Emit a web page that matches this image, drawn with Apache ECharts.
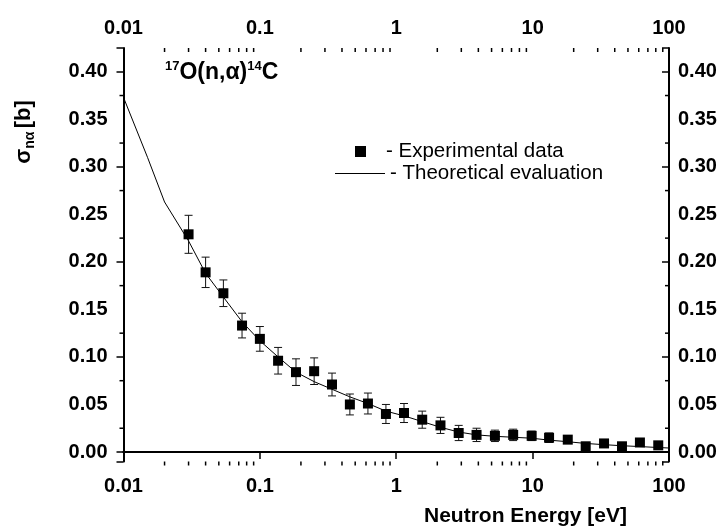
<!DOCTYPE html>
<html>
<head>
<meta charset="utf-8">
<script src="https://cdn.jsdelivr.net/npm/echarts@6/dist/echarts.min.js"></script>
<style>
html,body{margin:0;padding:0;background:#fff;}
#chart{width:723px;height:532px;}
</style>
</head>
<body>
<div id="chart"></div>
<script>
// Experimental data: neutron energy [eV], cross section [b], uncertainty [b]
const energies = [0.03, 0.04, 0.054, 0.074, 0.10, 0.136, 0.184, 0.25, 0.338, 0.457, 0.62, 0.84,
  1.14, 1.55, 2.11, 2.87, 3.88, 5.29, 7.2, 9.84, 13.2, 18.1, 24.5, 33.4, 45.2, 61.2, 83.4];
const sigma = [0.229, 0.189, 0.167, 0.133, 0.119, 0.096, 0.084, 0.085, 0.071, 0.050, 0.051, 0.040,
  0.041, 0.034, 0.028, 0.020, 0.018, 0.017, 0.018, 0.017, 0.015, 0.013, 0.006, 0.009, 0.006, 0.010, 0.007];
const sigmaErr = [0.020, 0.016, 0.014, 0.013, 0.013, 0.014, 0.014, 0.014, 0.012, 0.011, 0.011, 0.010,
  0.010, 0.009, 0.0085, 0.008, 0.007, 0.006, 0.006, 0.005, 0.005, 0.004, 0.004, 0.004, 0.004, 0.004, 0.004];
// Theoretical evaluation curve
const curveE = [0.01, 0.015, 0.02, 0.03, 0.04, 0.054, 0.074, 0.1, 0.136, 0.184, 0.25, 0.338, 0.457, 0.62,
  0.84, 1.14, 1.55, 2.11, 2.87, 3.88, 5.29, 7.2, 9.84, 13.2, 18.1, 24.5, 33.4, 45.2, 61.2, 83.4, 100];
const curveSigma = [0.373, 0.31, 0.263, 0.222, 0.188, 0.163, 0.137, 0.117, 0.100, 0.084, 0.074, 0.066, 0.058, 0.051,
  0.043, 0.038, 0.032, 0.026, 0.021, 0.018, 0.0165, 0.0155, 0.0145, 0.0125, 0.0108, 0.009, 0.0077, 0.0066, 0.0057, 0.0047, 0.0042];
// Tick positions and labels
const xMajorTicks = [0.01, 0.1, 1, 10, 100];
const xMinorTicks = [0.02,0.03,0.04,0.05,0.06,0.07,0.08,0.09, 0.2,0.3,0.4,0.5,0.6,0.7,0.8,0.9,
  2,3,4,5,6,7,8,9, 20,30,40,50,60,70,80,90];
const yMajorTicks = [0, 0.05, 0.10, 0.15, 0.20, 0.25, 0.30, 0.35, 0.40];
const yMinorTicks = [0.025, 0.075, 0.125, 0.175, 0.225, 0.275, 0.325, 0.375];

const FONT = "'Liberation Sans', Arial, sans-serif";
const chart = echarts.init(document.getElementById('chart'), null, {renderer: 'canvas'});

const expData = energies.map((e, i) => [e, sigma[i]]);
const errData = energies.map((e, i) => [e, sigma[i], sigmaErr[i]]);
const curveData = curveE.map((e, i) => [e, curveSigma[i]]);
const xMinorData = xMinorTicks.map(v => [v, 0]);
const yMinorData = yMinorTicks.map(v => [1, v]);

const MAJOR_LEN = 7, MINOR_LEN = 4;
const tickStyle = {stroke: '#000', lineWidth: 1.5};

function xAxisDef(pos, inside) {
  return {
    type: 'log', logBase: 10, min: 0.01, max: 100, position: pos,
    axisLine: {show: true, lineStyle: {color: '#000', width: 2}},
    axisTick: {show: true, inside: inside, length: MAJOR_LEN, lineStyle: {color: '#000', width: 1.5}},
    axisLabel: {show: true, customValues: xMajorTicks, color: '#000', fontFamily: FONT, fontWeight: 'bold',
      fontSize: 20, margin: pos === 'bottom' ? 15 : 10,
      formatter: v => String(v)},
    splitLine: {show: false}
  };
}
function yAxisDef(pos, inside) {
  return {
    type: 'value', min: -0.01, max: 0.425, position: pos,
    axisLine: {show: true, onZero: false, lineStyle: {color: '#000', width: 2}},
    axisTick: {show: true, inside: inside, length: MAJOR_LEN, lineStyle: {color: '#000', width: 1.5}},
    axisLabel: {show: true, customValues: yMajorTicks, color: '#000', fontFamily: FONT, fontWeight: 'bold',
      fontSize: 20, margin: pos === 'left' ? 16 : 9,
      formatter: v => v.toFixed(2)},
    splitLine: {show: false}
  };
}

const option = {
  animation: false,
  backgroundColor: '#fff',
  grid: {left: 123.5, right: 54, top: 48, bottom: 70.5, containLabel: false},
  xAxis: [xAxisDef('bottom', false), xAxisDef('top', true)],
  yAxis: [yAxisDef('left', false), yAxisDef('right', true)],
  legend: [
    {data: ['Experimental data'], left: 355, top: 141, padding: 0, icon: 'rect', itemWidth: 11, itemHeight: 11,
      formatter: '- {name}', selectedMode: false,
      textStyle: {fontFamily: FONT, fontSize: 20.5, color: '#000', padding: [0, 0, 0, 15]}},
    {data: ['Theoretical evaluation'], left: 335, top: 163, padding: 0, icon: 'rect', itemWidth: 50, itemHeight: 1,
      formatter: '- {name}', selectedMode: false,
      textStyle: {fontFamily: FONT, fontSize: 20.5, color: '#000'}}
  ],
  series: [
    // minor ticks of the log x axis (bottom outward, top inward)
    {name: 'xMinorTicks', type: 'custom', data: xMinorData, xAxisIndex: 0, yAxisIndex: 0, z: 5, clip: false,
      silent: true, encode: {x: 0, y: 1},
      renderItem: function (params, api) {
        const cs = params.coordSys;
        const px = api.coord([api.value(0), 0])[0];
        const yb = cs.y + cs.height, yt = cs.y;
        return {type: 'group', children: [
          {type: 'line', shape: {x1: px, y1: yb, x2: px, y2: yb + MINOR_LEN}, style: tickStyle},
          {type: 'line', shape: {x1: px, y1: yt, x2: px, y2: yt + MINOR_LEN}, style: tickStyle}
        ]};
      }},
    // minor ticks of the y axes (left outward, right inward)
    {name: 'yMinorTicks', type: 'custom', data: yMinorData, xAxisIndex: 0, yAxisIndex: 0, z: 5, clip: false,
      silent: true, encode: {x: 0, y: 1},
      renderItem: function (params, api) {
        const cs = params.coordSys;
        const py = api.coord([api.value(0), api.value(1)])[1];
        const xl = cs.x, xr = cs.x + cs.width;
        return {type: 'group', children: [
          {type: 'line', shape: {x1: xl - MINOR_LEN, y1: py, x2: xl, y2: py}, style: tickStyle},
          {type: 'line', shape: {x1: xr - MINOR_LEN, y1: py, x2: xr, y2: py}, style: tickStyle}
        ]};
      }},
    {name: 'Theoretical evaluation', type: 'line', data: curveData, xAxisIndex: 0, yAxisIndex: 0,
      symbol: 'none', smooth: false, lineStyle: {color: '#000', width: 1}, itemStyle: {color: '#000'}, z: 2},
    {name: 'error', type: 'custom', data: errData, xAxisIndex: 0, yAxisIndex: 0, z: 3,
      encode: {x: 0, y: 1},
      renderItem: function (params, api) {
        const x = api.value(0), y = api.value(1), e = api.value(2);
        const top = api.coord([x, y + e]);
        const bot = api.coord([x, y - e]);
        const hw = 4;
        const st = {stroke: '#111', lineWidth: 1};
        return {type: 'group', children: [
          {type: 'line', shape: {x1: top[0], y1: top[1], x2: bot[0], y2: bot[1]}, style: st},
          {type: 'line', shape: {x1: top[0] - hw, y1: top[1], x2: top[0] + hw, y2: top[1]}, style: st},
          {type: 'line', shape: {x1: bot[0] - hw, y1: bot[1], x2: bot[0] + hw, y2: bot[1]}, style: st}
        ]};
      }},
    {name: 'Experimental data', type: 'scatter', data: expData, xAxisIndex: 0, yAxisIndex: 0,
      symbol: 'rect', symbolSize: 10, itemStyle: {color: '#000', opacity: 1}, z: 4}
  ],
  graphic: [
    {type: 'text', left: 165, top: 60, z: 10,
      style: {text: '{s|17}{m|O(n,α)}{s|14}{m|C}', fill: '#000',
        rich: {
          s: {fontFamily: FONT, fontWeight: 'bold', fontSize: 13, verticalAlign: 'top', lineHeight: 26, padding: [0, 0, 12, 0]},
          m: {fontFamily: FONT, fontWeight: 'bold', fontSize: 23, lineHeight: 26}
        }}},
    {type: 'text', x: 24, y: 132, rotation: Math.PI / 2, z: 10,
      style: {text: '{m|σ}{s|nα} {m|[b]}', fill: '#000', align: 'center', verticalAlign: 'middle',
        rich: {
          m: {fontFamily: FONT, fontWeight: 'bold', fontSize: 22, lineHeight: 26},
          s: {fontFamily: FONT, fontWeight: 'bold', fontSize: 14, lineHeight: 26, padding: [12, 0, 0, 0]}
        }}},
    {type: 'text', x: 627, y: 516, z: 10,
      style: {text: 'Neutron Energy [eV]', fill: '#000', align: 'right', verticalAlign: 'middle',
        fontFamily: FONT, fontWeight: 'bold', fontSize: 21}}
  ]
};
chart.setOption(option);
</script>
</body>
</html>
